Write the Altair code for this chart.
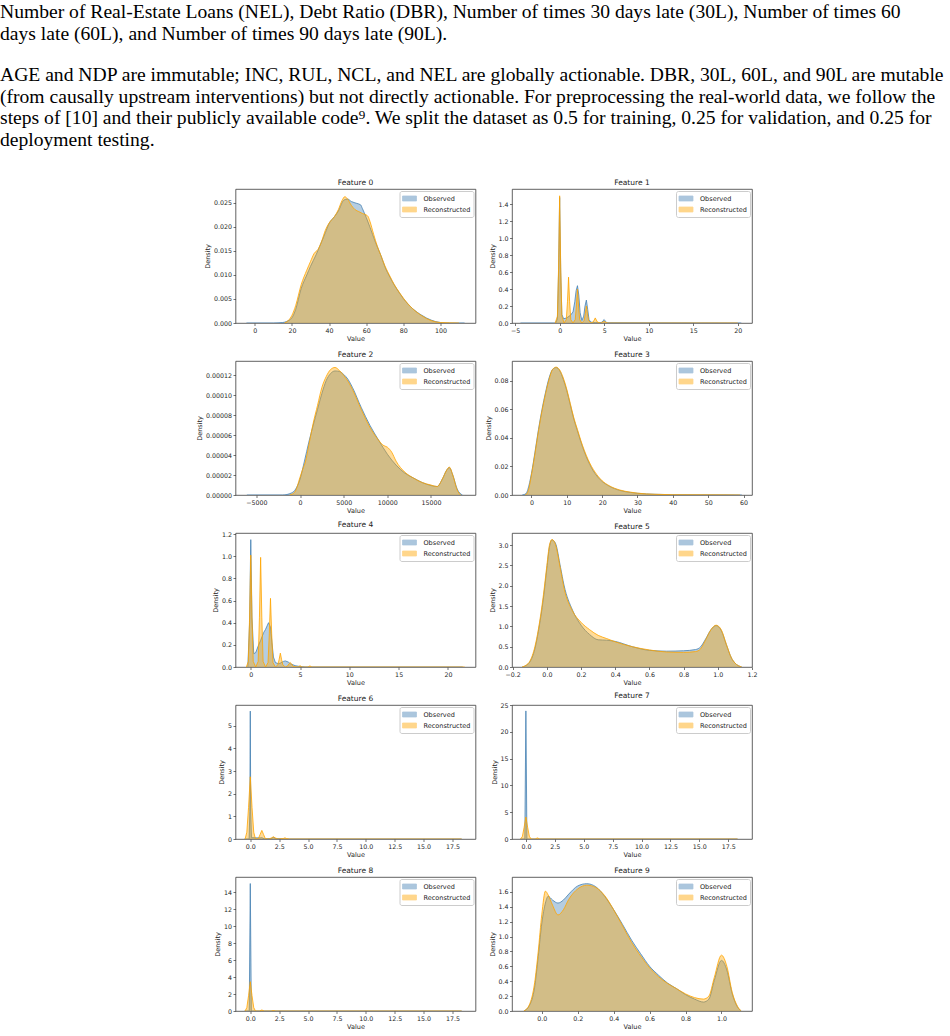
import altair as alt
import pandas as pd

# ---------------- text above the figure ----------------
TEXT_LINES = [
    "Number of Real-Estate Loans (NEL), Debt Ratio (DBR), Number of times 30 days late (30L), Number of times 60",
    "days late (60L), and Number of times 90 days late (90L).",
    "AGE and NDP are immutable; INC, RUL, NCL, and NEL are globally actionable. DBR, 30L, 60L, and 90L are mutable",
    "(from causally upstream interventions) but not directly actionable. For preprocessing the real-world data, we follow the",
    "steps of [10] and their publicly available code\u2079. We split the dataset as 0.5 for training, 0.25 for validation, and 0.25 for",
    "deployment testing.",
]
TEXT_BASELINES = [18, 40, 81, 103, 124, 146]

SERIES = ["Observed", "Reconstructed"]
FEATURES = ["Feature %d" % i for i in range(10)]

# ---------------- data ----------------
F0_OBS_X = [-4.5, 10, 15, 17, 20, 22, 25, 28, 30, 33, 35, 38, 40, 43, 45, 48, 50, 52, 55, 57, 58, 60, 62, 65, 68, 70, 73, 75, 78, 80, 85, 90, 95, 100, 105, 113]
F0_OBS_Y = [0, 0, 0.0001, 0.0003, 0.0011, 0.0028, 0.0072, 0.0100, 0.0118, 0.0142, 0.0160, 0.0188, 0.0207, 0.0222, 0.0233, 0.0256, 0.0258, 0.0253, 0.0249, 0.0246, 0.0238, 0.0220, 0.0200, 0.0168, 0.0140, 0.0118, 0.0094, 0.0080, 0.0062, 0.0051, 0.0030, 0.0016, 0.0006, 0.0001, 0.0, 0]
F0_REC_X = [16, 18, 20, 22, 25, 28, 30, 32, 34, 36, 38, 40, 43, 45, 47, 48.5, 50, 52, 54, 56, 58, 60, 61, 62, 64, 66, 68, 70, 73, 75, 78, 80, 85, 90, 95, 100, 110]
F0_REC_Y = [0, 0.0005, 0.0016, 0.0036, 0.0080, 0.0110, 0.0128, 0.0145, 0.0153, 0.0170, 0.0193, 0.0208, 0.0222, 0.0236, 0.0255, 0.0263, 0.0258, 0.0245, 0.0236, 0.0232, 0.0228, 0.0225, 0.0222, 0.0212, 0.0185, 0.0160, 0.0140, 0.0120, 0.0096, 0.0081, 0.0063, 0.0052, 0.0030, 0.0015, 0.0005, 0.0001, 0]

F1_OBS_X = [-4.4, -0.45, -0.25, -0.12, 0, 0.12, 0.25, 0.45, 0.8, 1.2, 1.5, 1.7, 1.85, 2.0, 2.15, 2.3, 2.5, 2.7, 2.85, 3.0, 3.15, 3.3, 3.5, 4.0, 4.7, 4.85, 5.0, 5.15, 5.3, 20.4]
F1_OBS_Y = [0, 0, 0.05, 0.6, 1.48, 0.6, 0.1, 0.05, 0.06, 0.09, 0.13, 0.25, 0.38, 0.44, 0.33, 0.12, 0.03, 0.08, 0.2, 0.27, 0.16, 0.04, 0.01, 0.005, 0.005, 0.025, 0.04, 0.02, 0.003, 0]
F1_REC_X = [-0.5, -0.25, -0.12, 0, 0.12, 0.25, 0.5, 0.75, 0.88, 1.0, 1.12, 1.25, 1.5, 1.75, 1.88, 2.0, 2.12, 2.25, 2.5, 2.75, 2.88, 3.0, 3.12, 3.25, 3.5, 3.75, 3.88, 4.0, 4.12, 4.25, 4.6, 4.85, 5.0, 5.15, 5.4, 20.0]
F1_REC_Y = [0, 0.08, 0.65, 1.5, 0.65, 0.08, 0.0, 0.04, 0.25, 0.54, 0.25, 0.04, 0.0, 0.04, 0.2, 0.40, 0.2, 0.04, 0.0, 0.03, 0.11, 0.20, 0.11, 0.03, 0.0, 0.01, 0.035, 0.06, 0.035, 0.01, 0.0, 0.01, 0.02, 0.01, 0, 0]

F2_OBS_X = [-6100, -2000, -1000, -500, 0, 500, 1000, 1500, 2000, 2500, 3000, 3500, 4000, 4500, 5000, 5500, 6000, 7000, 8000, 9000, 10000, 11000, 12000, 13000, 14000, 15000, 15700, 16300, 16800, 17100, 17500, 18000, 18600]
F2_OBS_Y = [0, 0, 0.2e-5, 0.6e-5, 1.6e-5, 3.4e-5, 5.3e-5, 7.0e-5, 8.6e-5, 10.2e-5, 11.5e-5, 12.2e-5, 12.45e-5, 12.4e-5, 12.1e-5, 11.6e-5, 10.8e-5, 8.8e-5, 7.0e-5, 5.5e-5, 4.1e-5, 3.0e-5, 2.2e-5, 1.7e-5, 1.25e-5, 0.95e-5, 0.85e-5, 1.6e-5, 2.5e-5, 2.75e-5, 2.0e-5, 0.6e-5, 0]
F2_REC_X = [-1200, -600, 0, 300, 600, 1000, 1500, 2000, 2500, 3000, 3500, 4000, 4500, 5000, 5500, 6000, 7000, 8000, 9000, 9500, 10000, 10500, 11000, 12000, 13000, 14000, 15000, 15700, 16300, 16800, 17100, 17500, 18000, 18400]
F2_REC_Y = [0, 0.3e-5, 1.8e-5, 2.6e-5, 3.3e-5, 5.0e-5, 7.2e-5, 9.0e-5, 10.8e-5, 11.9e-5, 12.6e-5, 12.8e-5, 12.5e-5, 12.0e-5, 11.4e-5, 10.6e-5, 8.6e-5, 6.8e-5, 5.5e-5, 5.0e-5, 4.8e-5, 4.3e-5, 3.4e-5, 2.3e-5, 1.7e-5, 1.25e-5, 1.0e-5, 0.85e-5, 1.6e-5, 2.5e-5, 2.8e-5, 2.0e-5, 0.5e-5, 0]

F3_OBS_X = [-2.6, -1.5, -1, 0, 1, 2, 3, 4, 5, 6, 7, 8, 9, 10, 11, 12, 13, 14, 15, 16, 17, 18, 20, 22, 25, 28, 30, 35, 40, 50, 59.5]
F3_OBS_Y = [0, 0.001, 0.004, 0.015, 0.030, 0.046, 0.060, 0.072, 0.082, 0.088, 0.0892, 0.087, 0.081, 0.073, 0.063, 0.053, 0.045, 0.037, 0.030, 0.024, 0.019, 0.015, 0.0095, 0.0062, 0.0032, 0.0018, 0.0012, 0.0005, 0.0002, 0.0001, 0]
F3_REC_X = [-1.8, -1.3, -0.9, 0, 1, 2, 3, 4, 5, 6, 7, 8, 9, 10, 11, 12, 13, 14, 15, 16, 17, 18, 20, 22, 25, 28, 30, 35, 40, 50, 59]
F3_REC_Y = [0, 0.0008, 0.003, 0.014, 0.029, 0.045, 0.059, 0.071, 0.081, 0.088, 0.0895, 0.0875, 0.082, 0.074, 0.064, 0.054, 0.046, 0.038, 0.031, 0.025, 0.020, 0.016, 0.010, 0.0065, 0.0035, 0.002, 0.0013, 0.0005, 0.0002, 0.0001, 0]

F4_OBS_X = [-0.3, -0.12, 0, 0.12, 0.3, 0.5, 0.8, 1.0, 1.3, 1.5, 1.8, 2.0, 2.15, 2.3, 2.5, 2.8, 3.0, 3.3, 3.5, 3.8, 4.0, 4.5, 5.0, 5.5, 21.5]
F4_OBS_Y = [0, 0.4, 1.15, 0.45, 0.12, 0.13, 0.2, 0.24, 0.31, 0.34, 0.40, 0.36, 0.22, 0.09, 0.04, 0.03, 0.035, 0.05, 0.055, 0.045, 0.03, 0.012, 0.004, 0, 0]
F4_REC_X = [-0.45, -0.25, -0.12, 0, 0.12, 0.25, 0.5, 0.75, 0.88, 1.0, 1.12, 1.25, 1.5, 1.75, 1.88, 2.0, 2.12, 2.25, 2.5, 2.75, 2.88, 3.0, 3.12, 3.25, 3.5, 3.75, 3.88, 4.0, 4.12, 4.3, 4.8, 5.0, 5.2, 5.8, 6.0, 6.2, 21.7]
F4_REC_Y = [0, 0.05, 0.45, 1.01, 0.45, 0.05, 0.0, 0.05, 0.45, 0.99, 0.45, 0.05, 0.0, 0.04, 0.3, 0.62, 0.3, 0.04, 0.0, 0.02, 0.07, 0.125, 0.07, 0.02, 0.0, 0.01, 0.03, 0.04, 0.03, 0.005, 0.0, 0.012, 0.0, 0.0, 0.01, 0.0, 0]

F5_X = [-0.145, -0.12, -0.1, -0.07, -0.05, -0.02, 0.0, 0.015, 0.03, 0.05, 0.08, 0.1, 0.15, 0.2, 0.25, 0.3, 0.35, 0.4, 0.5, 0.6, 0.7, 0.8, 0.87, 0.9, 0.93, 0.96, 0.99, 1.02, 1.05, 1.08, 1.1, 1.14]
F5_OBS_Y = [0, 0.04, 0.12, 0.45, 0.87, 1.7, 2.43, 2.95, 3.13, 3.05, 2.45, 2.02, 1.4, 1.03, 0.8, 0.67, 0.66, 0.63, 0.5, 0.41, 0.39, 0.40, 0.43, 0.5, 0.7, 0.92, 1.02, 0.9, 0.55, 0.22, 0.1, 0]
F5_REC_Y = [0, 0.05, 0.14, 0.5, 0.92, 1.78, 2.5, 3.0, 3.14, 3.02, 2.4, 1.95, 1.38, 1.1, 0.92, 0.78, 0.7, 0.62, 0.5, 0.42, 0.37, 0.36, 0.38, 0.45, 0.68, 0.92, 1.03, 0.92, 0.56, 0.22, 0.1, 0]

F6_OBS_X = [-0.5, -0.1, -0.04, 0, 0.04, 0.1, 0.5, 0.9, 1.0, 1.2, 1.8, 2.0, 2.2, 3.0, 18.3]
F6_OBS_Y = [0, 0, 1.2, 5.65, 1.2, 0.06, 0.05, 0.05, 0.06, 0.01, 0.02, 0.07, 0.02, 0.0, 0]
F6_REC_X = [-0.45, -0.3, -0.15, 0, 0.15, 0.3, 0.45, 0.7, 0.85, 1.0, 1.15, 1.3, 1.6, 1.85, 2.0, 2.15, 2.4, 2.85, 3.0, 3.15, 3.4, 18.3]
F6_REC_Y = [0, 0.3, 1.4, 2.75, 1.4, 0.3, 0, 0.02, 0.2, 0.38, 0.2, 0.02, 0, 0.05, 0.1, 0.05, 0, 0.02, 0.05, 0.02, 0, 0]

F7_OBS_X = [-0.5, -0.09, 0, 0.09, 18.3]
F7_OBS_Y = [0, 0, 23.9, 0, 0]
F7_REC_X = [-0.45, -0.3, -0.15, 0, 0.15, 0.3, 0.45, 0.8, 1.0, 1.2, 18.3]
F7_REC_Y = [0, 0.5, 2.2, 4.1, 2.2, 0.5, 0, 0, 0.2, 0, 0]

F8_OBS_X = [-0.5, -0.09, 0, 0.09, 18.3]
F8_OBS_Y = [0, 0, 15.0, 0, 0]
F8_REC_X = [-0.45, -0.3, -0.15, 0, 0.15, 0.3, 0.45, 0.8, 1.0, 1.2, 1.8, 2.0, 2.2, 18.3]
F8_REC_Y = [0, 0.4, 1.8, 3.45, 1.8, 0.4, 0, 0, 0.12, 0, 0, 0.05, 0, 0]

F9_X = [-0.1, -0.07, -0.04, -0.02, 0.0, 0.02, 0.035, 0.06, 0.09, 0.12, 0.15, 0.2, 0.25, 0.3, 0.35, 0.4, 0.45, 0.5, 0.55, 0.6, 0.65, 0.7, 0.75, 0.8, 0.85, 0.9, 0.93, 0.96, 1.0, 1.03, 1.06, 1.09, 1.11]
F9_OBS_Y = [0, 0.07, 0.32, 0.73, 1.18, 1.45, 1.54, 1.49, 1.45, 1.49, 1.57, 1.68, 1.71, 1.67, 1.54, 1.36, 1.16, 0.95, 0.77, 0.60, 0.48, 0.375, 0.30, 0.22, 0.16, 0.12, 0.16, 0.41, 0.68, 0.55, 0.23, 0.05, 0]
F9_REC_Y = [0, 0.08, 0.38, 0.8, 1.3, 1.61, 1.56, 1.42, 1.29, 1.36, 1.5, 1.64, 1.69, 1.66, 1.55, 1.36, 1.14, 0.92, 0.74, 0.58, 0.46, 0.37, 0.30, 0.23, 0.18, 0.16, 0.2, 0.45, 0.75, 0.6, 0.25, 0.06, 0]

# axis settings per feature (domain, ticks, formats)
X_DOMAINS = [[-10.4, 118.9], [-5.35, 21.6], [-7400, 20100], [-5.5, 62.4], [-1.55, 22.8],
             [-0.204, 1.2], [-1.28, 19.5], [-1.2, 19.55], [-1.28, 19.5], [-0.166, 1.17]]
Y_DOMAINS = [[0, 0.0279], [0, 1.58], [0, 0.0001345], [0, 0.0938], [0, 1.21],
             [0, 3.3], [0, 5.92], [0, 25], [0, 15.77], [0, 1.8]]
X_TICKS = [[0, 20, 40, 60, 80, 100], [-5, 0, 5, 10, 15, 20], [-5000, 0, 5000, 10000, 15000],
           [0, 10, 20, 30, 40, 50, 60], [0, 5, 10, 15, 20], [-0.2, 0, 0.2, 0.4, 0.6, 0.8, 1.0, 1.2],
           [0, 2.5, 5, 7.5, 10, 12.5, 15, 17.5], [0, 2.5, 5, 7.5, 10, 12.5, 15, 17.5],
           [0, 2.5, 5, 7.5, 10, 12.5, 15, 17.5], [0, 0.2, 0.4, 0.6, 0.8, 1.0]]
X_FMT = ["d", "d", "d", "d", "d", ".1f", ".1f", ".1f", ".1f", ".1f"]
Y_TICKS = [[0, 0.005, 0.01, 0.015, 0.02, 0.025], [0, 0.2, 0.4, 0.6, 0.8, 1.0, 1.2, 1.4],
           [0, 0.00002, 0.00004, 0.00006, 0.00008, 0.0001, 0.00012], [0, 0.02, 0.04, 0.06, 0.08],
           [0, 0.2, 0.4, 0.6, 0.8, 1.0, 1.2], [0, 0.5, 1.0, 1.5, 2.0, 2.5, 3.0], [0, 1, 2, 3, 4, 5],
           [0, 5, 10, 15, 20, 25], [0, 2, 4, 6, 8, 10, 12, 14], [0, 0.2, 0.4, 0.6, 0.8, 1.0, 1.2, 1.4, 1.6]]
Y_FMT = [".3f", ".1f", ".5f", ".2f", ".1f", ".1f", "d", "d", "d", ".1f"]

CURVES = [
    (F0_OBS_X, F0_OBS_Y, F0_REC_X, F0_REC_Y, "monotone"),
    (F1_OBS_X, F1_OBS_Y, F1_REC_X, F1_REC_Y, "linear"),
    (F2_OBS_X, F2_OBS_Y, F2_REC_X, F2_REC_Y, "monotone"),
    (F3_OBS_X, F3_OBS_Y, F3_REC_X, F3_REC_Y, "monotone"),
    (F4_OBS_X, F4_OBS_Y, F4_REC_X, F4_REC_Y, "linear"),
    (F5_X, F5_OBS_Y, F5_X, F5_REC_Y, "monotone"),
    (F6_OBS_X, F6_OBS_Y, F6_REC_X, F6_REC_Y, "linear"),
    (F7_OBS_X, F7_OBS_Y, F7_REC_X, F7_REC_Y, "linear"),
    (F8_OBS_X, F8_OBS_Y, F8_REC_X, F8_REC_Y, "linear"),
    (F9_X, F9_OBS_Y, F9_X, F9_REC_Y, "monotone"),
]

BLUE = "#4682b4"
ORANGE = "#ffa500"
FONT = "DejaVu Sans"
SERIF = "Liberation Serif"
PANEL_W = 240
PANEL_H = 134
GRID_TOP = 189
ONE_ROW = alt.Data(values=[{"a": 0}])


def panel(i):
    ox, oy, rx, ry, interp = CURVES[i]
    cscale = alt.Scale(domain=SERIES, range=[BLUE, ORANGE])
    legend = alt.Legend(
        title=None, orient="top-right", offset=2,
        symbolType="M-1.55,-0.55H1.55V0.55H-1.55Z", symbolSize=81, symbolOpacity=0.45,
        symbolOffset=2.5, symbolStrokeWidth=0.8,
        labelFont=FONT, labelFontSize=6.5, labelColor="#222",
        labelOffset=9, rowPadding=1, padding=2.5, fillColor="white",
        strokeColor="#cccccc", cornerRadius=2,
    )
    xenc = alt.X("x:Q", scale=alt.Scale(domain=X_DOMAINS[i], nice=False, zero=False),
                 axis=alt.Axis(values=X_TICKS[i], format=X_FMT[i], title="Value"))
    yenc = alt.Y("y:Q", stack=False, scale=alt.Scale(domain=Y_DOMAINS[i], nice=False),
                 axis=alt.Axis(values=Y_TICKS[i], format=Y_FMT[i], title="Density"))
    layers = []
    for s, xs, ys in ((SERIES[0], ox, oy), (SERIES[1], rx, ry)):
        layers.append(
            alt.Chart(pd.DataFrame({"x": xs, "y": ys, "s": s})).mark_area(
                interpolate=interp, fillOpacity=0.4, clip=True,
                line={"strokeWidth": 0.9, "strokeOpacity": 0.9},
            ).encode(x=xenc, y=yenc, color=alt.Color("s:N", scale=cscale, legend=legend))
        )
    return alt.layer(*layers).properties(
        width=PANEL_W, height=PANEL_H,
        title=alt.TitleParams(FEATURES[i], font=FONT, fontSize=7.5, fontWeight="normal",
                              color="#222", offset=2.5, anchor="middle"),
        view=alt.ViewBackground(stroke="#3a3a3a", strokeWidth=0.8, strokeOpacity=1),
    )


def spacer(with_text=False):
    layers = [
        alt.Chart(ONE_ROW).mark_point(opacity=0, size=1).encode(
            x=alt.value(0.6), y=alt.value(-GRID_TOP + 0.6 if with_text else 0.6)
        )
    ]
    if with_text:
        for t, b in zip(TEXT_LINES, TEXT_BASELINES):
            layers.append(
                alt.Chart(ONE_ROW).mark_text(
                    font=SERIF, fontSize=19.6, align="left", baseline="alphabetic", color="black"
                ).encode(x=alt.value(0), y=alt.value(b - GRID_TOP), text=alt.value(t))
            )
    return alt.layer(*layers).properties(
        width=199, height=PANEL_H, view=alt.ViewBackground(strokeOpacity=0)
    )


cells = []
for r in range(5):
    cells += [spacer(with_text=(r == 0)), panel(2 * r), panel(2 * r + 1)]

chart = alt.concat(
    *cells, columns=3, spacing={"row": 38, "column": 36.5}, bounds="flush"
).resolve_scale(color="independent").resolve_legend(color="independent").properties(
    padding=0, background="white"
)

chart = chart.configure_axis(
    labelFont=FONT, labelFontSize=6.3, labelColor="#262626",
    titleFont=FONT, titleFontSize=6.5, titleFontWeight="normal", titleColor="#262626",
    tickColor="#3a3a3a", tickSize=2.5, tickWidth=0.7, domain=False, grid=False,
    labelPadding=1.5, titlePadding=2.5, labelFlush=False, labelOverlap=False, labelBound=False,
)

chart.save("out.html", embed_options={"renderer": "svg", "actions": False})
